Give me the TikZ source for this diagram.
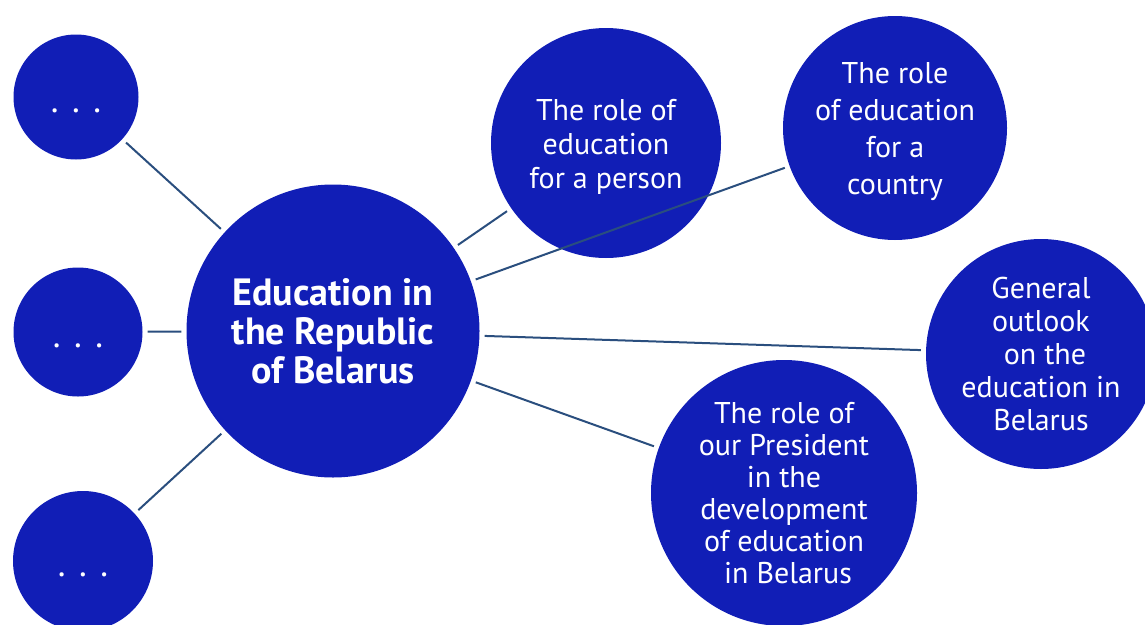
\documentclass[tikz,border=0pt]{standalone}
\usepackage{fontspec}
\setmainfont{PT Sans}
\definecolor{circblue}{HTML}{111EB6}
\definecolor{linkc}{HTML}{2A4E7E}
\begin{document}
\begin{tikzpicture}[x=1pt,y=-1pt,
  bub/.style={circle,fill=circblue,text=white,inner sep=0pt,align=center,font=\fontsize{30}{34}\selectfont},
  txt/.style={text=white,inner sep=0pt,align=center,font=\fontsize{30}{34}\selectfont},
  dots/.style={text=white,inner sep=0pt,font=\fontsize{36}{38}\selectfont},
  link/.style={draw=linkc,line width=2pt,shorten <=5pt,shorten >=5pt}]
\useasboundingbox (0,0) rectangle (1145,624);
\clip (0,0) rectangle (1145,624);
% left small circles
\node[bub,minimum size=125pt] (tl) at (76,97) {};
\node[dots,anchor=base] (tlt) at (76,112) {.\hspace{13.5pt}.\hspace{13.5pt}.};
\node[bub,minimum size=129pt] (ml) at (78,332) {};
\node[dots,anchor=base] (mlt) at (78,347) {.\hspace{13.5pt}.\hspace{13.5pt}.};
\node[bub,minimum size=140pt] (bl) at (83,561) {};
\node[dots,anchor=base] (blt) at (83,576) {.\hspace{13.5pt}.\hspace{13.5pt}.};
% central
\node[bub,minimum size=293pt,font=\bfseries\fontsize{38}{39}\selectfont] (c) at (333,331)
  {Education in\\the Republic\\of Belarus};
% right circles
\node[bub,minimum size=230pt] (p) at (606,143) {};
\node[txt] (pt) at (606,147) {The role of\\education\\for a person};
\node[bub,minimum size=224pt] (k) at (895,128) {};
\node[txt,font=\fontsize{30}{37}\selectfont] (kt) at (895,132) {The role\\of education\\for a\\country};
\node[bub,minimum size=230pt,font=\fontsize{30}{33}\selectfont] (g) at (1041,354) {General\\outlook\\\ on the\\education in\\Belarus};
\node[bub,minimum size=266pt,font=\fontsize{30}{32}\selectfont] (r) at (784,493) {The role of\\our President\\in the\\development\\of education\\\ in Belarus};
% connectors
\draw[link] (tl) -- (c);
\draw[link] (ml) -- (c);
\draw[link] (bl) -- (c);
\draw[link] (c) -- (p);
\draw[link] (c) -- (k);
\draw[link] (c) -- (g);
\draw[link] (c) -- (r);
\end{tikzpicture}
\end{document}
